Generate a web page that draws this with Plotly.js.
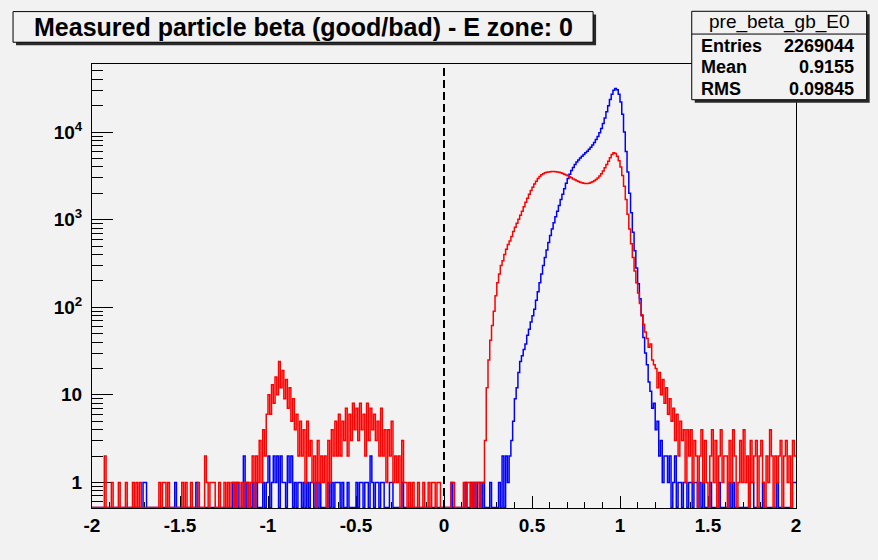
<!DOCTYPE html>
<html>
<head>
<meta charset="utf-8">
<script src="https://cdn.plot.ly/plotly-3.0.1.min.js"></script>
<style>
  html, body { margin: 0; padding: 0; background: #f2f2f2; }
  #chart { width: 878px; height: 560px; }
</style>
</head>
<body>
<div id="chart"></div>
<script>
// ---- Histogram binning: 400 bins from -2 to 2 ----
const binLow = -2;
const binWidth = 0.01;

// "good" particles (blue), counts per bin, 10 bins per line starting at -2.0
const goodCounts = [
  0,0,0,0,0,0,0,0,0,0,
  0,0,0,0,0,0,0,0,0,0,
  0,0,0,0,0,0,0,0,0,1,
  1,0,0,0,0,0,0,0,0,0,
  0,0,0,0,0,0,0,1,0,0,
  0,0,0,0,0,0,0,0,0,1,
  0,0,0,0,0,0,0,0,0,0,
  0,0,0,0,0,0,0,0,0,0,
  1,0,1,0,0,0,2,0,1,0,
  0,1,0,1,0,0,0,1,0,1,
  2,0,1,2,1,2,0,2,1,1,
  0,2,1,2,0,1,0,1,1,0,
  1,0,1,0,1,1,0,1,0,1,
  0,0,0,0,1,0,1,0,1,1,
  1,0,1,0,0,1,0,0,0,0,
  1,0,1,1,0,1,1,0,2,1,
  0,1,1,0,1,1,0,0,0,1,
  1,0,0,0,0,0,1,0,0,0,
  0,0,0,0,0,0,0,0,0,0,
  0,0,0,0,0,0,0,0,0,0,
  0,0,0,0,1,0,0,0,0,0,
  0,0,1,0,0,1,0,1,0,1,
  1,0,1,0,0,0,1,0,0,0,
  0,1,0,2,0,2,1,2,3,5,
  9,12,18,24,28,33,38,48,56,68,
  80,95,120,150,190,240,300,370,450,550,
  660,780,920,1080,1250,1450,1700,1950,2250,2600,
  2950,3300,3650,3950,4250,4550,4800,5050,5300,5550,
  5800,6050,6350,6700,7100,7600,8200,8900,9800,11000,
  12500,14500,17000,20000,23500,27000,30000,31500,30500,27000,
  22000,16000,10000,6000,3500,2000,1200,720,440,280,
  185,125,80,45,30,22,14,11,7,8,
  4,5,2,3,1,2,2,1,2,0,
  1,2,0,1,1,0,1,1,0,1,
  1,0,1,1,0,1,0,1,0,0,
  0,1,0,0,0,0,1,0,0,0,
  0,0,1,0,1,0,0,0,0,0,
  0,0,0,0,1,1,0,0,0,0,
  0,1,0,0,0,0,0,0,0,1,
  0,0,0,0,0,0,0,0,1,1
];

// "bad" particles (red), counts per bin, 10 bins per line starting at -2.0
const badCounts = [
  0,0,0,0,0,0,0,2,0,0,
  0,1,0,0,0,1,0,0,0,1,
  0,0,0,1,0,1,0,1,0,0,
  0,0,0,0,0,0,0,0,1,0,
  1,1,0,1,0,0,0,0,0,0,
  0,1,0,1,0,0,1,0,0,0,
  1,0,0,0,2,1,0,1,1,1,
  0,0,1,0,0,1,0,1,0,1,
  1,0,1,1,0,1,0,1,1,0,
  1,2,0,2,1,3,1,4,2,6,
  10,6,13,8,16,10,24,12,19,9,
  15,7,12,5,9,4,6,2,5,2,
  4,1,5,2,3,1,2,0,3,1,
  2,1,2,0,3,1,4,2,5,2,
  6,2,5,3,7,2,6,3,8,4,
  7,3,8,4,6,2,8,3,7,4,
  6,3,5,2,7,2,4,1,4,2,
  5,1,2,1,2,0,3,1,1,0,
  1,0,1,0,0,1,0,0,1,0,
  0,1,0,1,1,0,1,1,0,0,
  0,0,0,0,1,1,0,0,0,0,
  0,1,0,1,1,0,1,0,1,1,
  0,1,1,3,12,25,42,62,90,135,
  190,240,300,340,400,460,520,570,640,730,
  820,910,1010,1120,1250,1400,1580,1760,1950,2150,
  2350,2550,2750,2950,3100,3250,3350,3420,3470,3500,
  3530,3540,3540,3530,3510,3470,3420,3360,3300,3240,
  3170,3080,3000,2920,2850,2780,2720,2670,2630,2600,
  2590,2590,2610,2650,2700,2780,2870,2990,3150,3350,
  3600,3900,4250,4650,5100,5550,5800,5700,5300,4700,
  4000,3200,2400,1700,1150,780,530,370,260,190,
  145,110,82,64,52,44,35,38,25,22,
  20,12,18,10,15,8,12,6,9,5,
  7,3,6,2,5,3,4,1,4,2,
  4,1,3,2,0,2,4,1,3,1,
  0,2,4,1,3,0,2,4,1,2,
  2,0,3,1,4,2,0,1,3,1,
  4,1,2,0,3,1,2,3,0,2,
  3,1,0,2,1,4,2,0,2,1,
  2,3,0,2,3,1,2,0,3,2
];

// Axis ticks / labels
const xTickVals = [-2, -1.5, -1, -0.5, 0, 0.5, 1, 1.5, 2];
const xTickLabels = ["-2", "-1.5", "-1", "-0.5", "0", "0.5", "1", "1.5", "2"];
const yTickVals = [1, 10, 100, 1000, 10000];
const yTickLabels = ["1", "10", "10<sup>2</sup>", "10<sup>3</sup>", "10<sup>4</sup>"];

// Texts
const chartTitle = "Measured particle beta (good/bad) - E zone: 0";
const statsName = "pre_beta_gb_E0";
const statsLabels = ["Entries", "Mean", "RMS"];
const statsValues = ["2269044", "0.9155", "0.09845"];

// ---- Geometry (pixels) ----
const W = 878, H = 560;
const M = { l: 91.7, r: 82, t: 63.5, b: 51.7 };
const PW = W - M.l - M.r, PH = H - M.t - M.b;
const px = v => (v - M.l) / PW;           // pixel x -> paper x
const py = v => (H - M.b - v) / PH;       // pixel y -> paper y

const yMin = 0.51, yMaxLog = 4.777;
const zeroFloor = 0.516;   // empty bins are drawn along the bottom of the frame

function histTrace(counts, color) {
  const n = counts.length;
  const xs = [], ys = [];
  for (let i = 0; i <= n; i++) {
    xs.push(binLow + i * binWidth);
    const c = counts[Math.min(i, n - 1)];
    ys.push(c > 0 ? c : zeroFloor);
  }
  return {
    type: 'scatter', mode: 'lines', x: xs, y: ys,
    line: { shape: 'hv', color: color, width: 1.5 },
    hoverinfo: 'skip'
  };
}

const traces = [
  histTrace(goodCounts, '#0000ff'),
  histTrace(badCounts, '#ff0000')
];

// minor ticks for log axis
const yMinor = [];
for (let d = -1; d <= 4; d++) {
  for (let k = 2; k <= 9; k++) {
    const v = k * Math.pow(10, d);
    if (v >= yMin && Math.log10(v) <= yMaxLog) yMinor.push(v);
  }
}

const FAM = 'Liberation Sans, Arial, sans-serif';
const tickFont = { family: FAM, size: 19, color: '#000', weight: 'bold' };

const shapes = [
  // zero line
  { type: 'line', xref: 'x', yref: 'paper', x0: 0, x1: 0, y0: 0, y1: 1,
    line: { color: '#000', width: 2, dash: '8px,4px' }, layer: 'above' },
  // title box shadow + box
  { type: 'rect', xref: 'paper', yref: 'paper', x0: px(15.7), x1: px(596), y0: py(44.7), y1: py(14),
    fillcolor: '#2a2a2a', line: { width: 0 }, layer: 'above' },
  { type: 'rect', xref: 'paper', yref: 'paper', x0: px(12.7), x1: px(593), y0: py(41.7), y1: py(11),
    fillcolor: '#f2f2f2', line: { color: '#000', width: 1 }, layer: 'above' },
  // stats box shadow + box
  { type: 'rect', xref: 'paper', yref: 'paper', x0: px(694.7), x1: px(869.7), y0: py(102.3), y1: py(13.7),
    fillcolor: '#2a2a2a', line: { width: 0 }, layer: 'above' },
  { type: 'rect', xref: 'paper', yref: 'paper', x0: px(691.7), x1: px(866.7), y0: py(99.3), y1: py(10.7),
    fillcolor: '#f2f2f2', line: { color: '#000', width: 1 }, layer: 'above' },
  { type: 'line', xref: 'paper', yref: 'paper', x0: px(691.7), x1: px(866.7), y0: py(33.5), y1: py(33.5),
    line: { color: '#000', width: 1 }, layer: 'above' }
];

const annotations = [
  { xref: 'paper', yref: 'paper', x: px(302.9), y: py(26.3), xanchor: 'center', yanchor: 'middle',
    text: chartTitle, showarrow: false,
    font: { family: FAM, size: 25, color: '#000', weight: 'bold' } },
  { xref: 'paper', yref: 'paper', x: px(779.2), y: py(21.5), xanchor: 'center', yanchor: 'middle',
    text: statsName, showarrow: false,
    font: { family: FAM, size: 19, color: '#000' } }
];
const rowY = [45, 67, 89];
statsLabels.forEach((lab, k) => {
  annotations.push({ xref: 'paper', yref: 'paper', x: px(699), y: py(rowY[k]), xanchor: 'left', yanchor: 'middle',
    text: lab, showarrow: false,
    font: { family: FAM, size: 18, color: '#000', weight: 'bold' } });
  annotations.push({ xref: 'paper', yref: 'paper', x: px(856), y: py(rowY[k]), xanchor: 'right', yanchor: 'middle',
    text: statsValues[k], showarrow: false,
    font: { family: FAM, size: 18, color: '#000', weight: 'bold' } });
});

const layout = {
  width: W, height: H,
  margin: { l: M.l, r: M.r, t: M.t, b: M.b, pad: 0 },
  paper_bgcolor: '#f2f2f2', plot_bgcolor: '#f2f2f2',
  showlegend: false, hovermode: false,
  xaxis: {
    range: [-2, 2], tickmode: 'array', tickvals: xTickVals, ticktext: xTickLabels,
    ticks: 'inside', ticklen: 12, tickwidth: 1, tickcolor: '#000',
    showline: true, linecolor: '#000', linewidth: 1, mirror: true,
    showgrid: false, zeroline: false, tickfont: tickFont, layer: 'below traces',
    minor: { tickmode: 'linear', tick0: -2, dtick: 0.1, ticks: 'inside', ticklen: 6, tickwidth: 1, tickcolor: '#000', showgrid: false }
  },
  yaxis: {
    type: 'log', range: [Math.log10(yMin), yMaxLog],
    tickmode: 'array', tickvals: yTickVals, ticktext: yTickLabels,
    ticks: 'inside', ticklen: 21, tickwidth: 1, tickcolor: '#000', ticklabelstandoff: 5,
    showline: true, linecolor: '#000', linewidth: 1, mirror: true,
    showgrid: false, zeroline: false, tickfont: tickFont, layer: 'below traces',
    minor: { tickmode: 'array', tickvals: yMinor, ticks: 'inside', ticklen: 11, tickwidth: 1, tickcolor: '#000', showgrid: false }
  },
  shapes: shapes,
  annotations: annotations
};

Plotly.newPlot('chart', traces, layout, { displayModeBar: false, staticPlot: true });
</script>
</body>
</html>
